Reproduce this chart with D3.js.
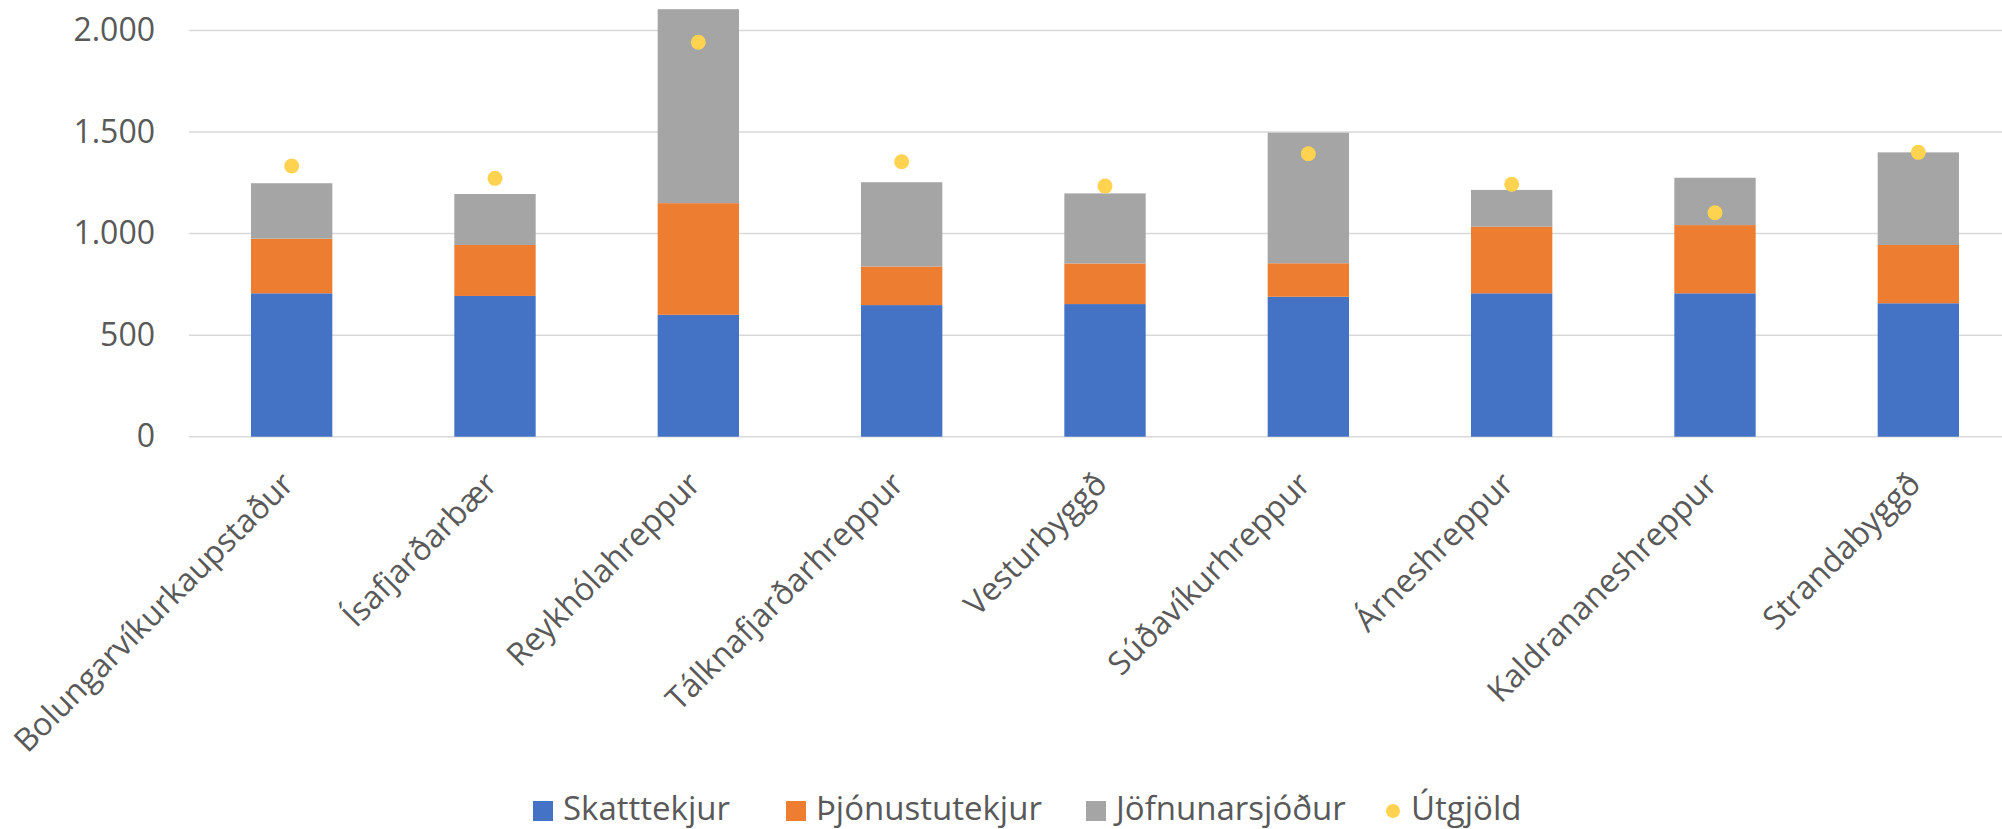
<!DOCTYPE html>
<html>
<head>
<meta charset="utf-8">
<script src="https://cdn.jsdelivr.net/npm/d3@7"></script>
<style>
  body { margin: 0; background: #fff; }
  text { font-family: "Open Sans", sans-serif; fill: #595959; }
</style>
</head>
<body>
<div id="chart"></div>
<script>
var categories = ["Bolungarvíkurkaupstaður", "Ísafjarðarbær", "Reykhólahreppur", "Tálknafjarðarhreppur",
    "Vesturbyggð", "Súðavíkurhreppur", "Árneshreppur", "Kaldrananeshreppur", "Strandabyggð"];
var skatttekjur     = [706, 693, 600, 648, 653, 689, 706, 706, 657];
var thjonustutekjur = [269, 251, 550, 190, 200, 165, 328, 336, 287];
var jofnunarsjodur  = [273, 251, 955, 415, 345, 643, 181, 233, 456];
var utgjold         = [1333, 1272, 1942, 1354, 1234, 1393, 1243, 1103, 1400];
var seriesNames = ["Skatttekjur", "Þjónustutekjur", "Jöfnunarsjóður", "Útgjöld"];
var yTicks = [0, 500, 1000, 1500, 2000];

var colors = ["#4472C4", "#ED7D31", "#A5A5A5", "#FFD34F"];

var width = 2002, height = 829;

var svg = d3.select("#chart").append("svg")
    .attr("width", width)
    .attr("height", height);

var x = d3.scaleBand()
    .domain(categories)
    .range([190, 2020])
    .paddingInner(0.6)
    .paddingOuter(0.3);

var y = d3.scaleLinear()
    .domain([0, 2000])
    .range([436.7, 30.5]);

// gridlines
svg.append("g")
    .selectAll("line")
    .data(yTicks)
    .enter()
        .append("line")
        .attr("x1", 189)
        .attr("x2", width)
        .attr("y1", function(d){ return y(d); })
        .attr("y2", function(d){ return y(d); })
        .attr("stroke", "#D9D9D9")
        .attr("stroke-width", 1.5);

// y axis labels, icelandic number format
var fmt = d3.formatLocale({decimal: ",", thousands: ".", grouping: [3], currency: ["", " kr."]}).format(",d");
var yAxis = svg.append("g")
    .attr("transform", "translate(155,0)")
    .call(d3.axisLeft(y).tickValues(yTicks).tickFormat(fmt).tickSize(0).tickPadding(0));
yAxis.select(".domain").remove();
yAxis.selectAll("text")
    .style("font-size", "32px")
    .attr("fill", "#595959");

// stacked bars
var rows = categories.map(function(c, i){
    return {cat: c, s: skatttekjur[i], t: thjonustutekjur[i], j: jofnunarsjodur[i]};
});
var stack = d3.stack().keys(["s", "t", "j"]);
var layers = stack(rows);

svg.append("g")
    .selectAll("g")
    .data(layers)
    .enter()
        .append("g")
        .attr("fill", function(d, i){ return colors[i]; })
        .selectAll("rect")
        .data(function(d){ return d; })
        .enter()
            .append("rect")
            .attr("x", function(d){ return x(d.data.cat); })
            .attr("width", x.bandwidth())
            .attr("y", function(d){ return y(d[1]); })
            .attr("height", function(d){ return y(d[0]) - y(d[1]); });

// Útgjöld dots
svg.append("g")
    .selectAll("circle")
    .data(utgjold)
    .enter()
        .append("circle")
        .attr("cx", function(d, i){ return x(categories[i]) + x.bandwidth() / 2; })
        .attr("cy", function(d){ return y(d); })
        .attr("r", 7.5)
        .attr("fill", colors[3]);

// category labels
svg.append("g")
    .selectAll("text")
    .data(categories)
    .enter()
        .append("text")
        .attr("transform", function(d){
            return "translate(" + (x(d) + x.bandwidth() / 2 - 4) + ",478) rotate(-45)";
        })
        .attr("text-anchor", "end")
        .attr("dy", "0.35em")
        .style("font-size", "32px")
        .text(function(d){ return d; });

// legend
var legendX = [533, 786, 1086, 1393];
var legend = svg.append("g")
    .selectAll("g")
    .data(seriesNames)
    .enter()
        .append("g")
        .attr("transform", function(d, i){ return "translate(" + legendX[i] + ",811)"; });

legend.each(function(d, i){
    var g = d3.select(this);
    if (i < 3) {
        g.append("rect")
            .attr("x", 0).attr("y", -10)
            .attr("width", 20).attr("height", 20)
            .attr("fill", colors[i]);
        g.append("text")
            .attr("x", 30)
            .attr("y", 9)
            .style("font-size", "33px")
            .text(d);
    } else {
        g.append("circle")
            .attr("r", 7)
            .attr("fill", colors[i]);
        g.append("text")
            .attr("x", 18)
            .attr("y", 9)
            .style("font-size", "33px")
            .text(d);
    }
});
</script>
</body>
</html>
